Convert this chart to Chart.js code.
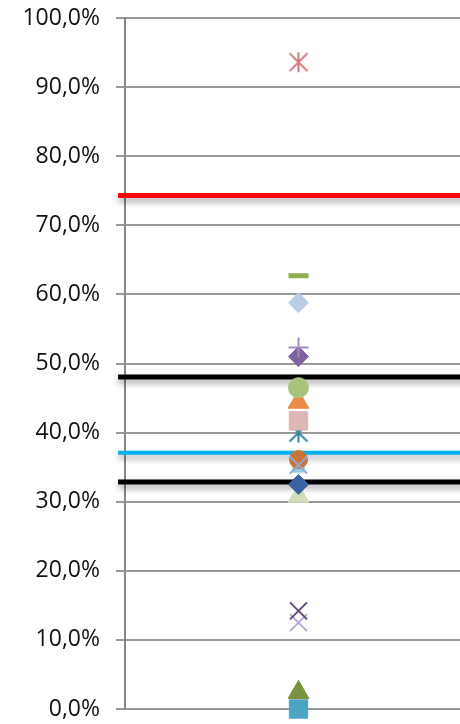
<!DOCTYPE html>
<html>
<head>
<meta charset="utf-8">
<script src="https://cdn.jsdelivr.net/npm/chart.js@4/dist/chart.umd.min.js"></script>
<style>
  html, body { margin: 0; padding: 0; background: #fff; overflow: hidden; width: 460px; height: 724px; }
  #wrap { width: 487px; height: 724px; position: relative; }
  canvas { display: block; }
</style>
</head>
<body>
<div id="wrap"><canvas id="c" width="487" height="724" style="width:487px;height:724px"></canvas></div>
<script>
// ---- data ----
const categoryX = 1;                      // single category in the middle of x range 0..2
const tickValues = [0, 10, 20, 30, 40, 50, 60, 70, 80, 90, 100];
const tickLabels = ['0,0%', '10,0%', '20,0%', '30,0%', '40,0%', '50,0%', '60,0%', '70,0%', '80,0%', '90,0%', '100,0%'];

// marker series, drawn bottom-to-top
const seriesNames  = ['S1', 'S2', 'S3', 'S4', 'S5', 'S6', 'S7', 'S8', 'S9', 'S10', 'S11', 'S12', 'S13', 'S14', 'S15', 'S16', 'S17', 'S18'];
const seriesValues = [2.4, 0.0, 12.5, 14.2, 30.8, 32.5, 35.1, 36.1, 35.3, 40.0, 41.7, 44.4, 46.5, 51.0, 52.3, 58.8, 62.7, 93.6];

// horizontal reference lines
const refNames  = ['Ref red', 'Ref black 1', 'Ref cyan', 'Ref black 2'];
const refValues = [74.3, 48.05, 37.1, 32.85];
const refXStart = -0.04, refXEnd = 2.1;

// ---- styles ----
function starCanvas(color) {
  const c = document.createElement('canvas');
  c.width = 22; c.height = 22;
  const g = c.getContext('2d');
  g.strokeStyle = color; g.lineWidth = 2;
  g.beginPath();
  g.moveTo(2, 2); g.lineTo(20, 20);
  g.moveTo(20, 2); g.lineTo(2, 20);
  g.moveTo(11, 1); g.lineTo(11, 21);
  g.stroke();
  return c;
}
const markerStyles = [
  { c: '#77933C', s: 'triangle', r: 12, bw: 1 },
  { c: '#4AA5C3', s: 'rect', r: 13, bw: 1 },
  { c: '#B6A8D0', s: 'crossRot', r: 12, bw: 2 },
  { c: '#604A7B', s: 'crossRot', r: 12, bw: 2 },
  { c: '#CFDDB9', s: 'triangle', r: 12, bw: 1 },
  { c: '#3A64A0', s: 'rectRot', r: 10, bw: 1 },
  { c: '#93CDDD', s: 'rect', r: 8, bw: 1 },
  { c: '#CC7438', s: 'circle', r: 9, bw: 1 },
  { c: '#8EAADB', s: 'crossRot', r: 12, bw: 2 },
  { c: '#31849B', s: starCanvas('#31849B'), r: 10, bw: 1 },
  { c: '#DDB7B6', s: 'rect', r: 13, bw: 1 },
  { c: '#EB8C47', s: 'triangle', r: 12, bw: 1 },
  { c: '#A8C47C', s: 'circle', r: 10, bw: 1 },
  { c: '#7E62A1', s: 'rectRot', r: 10, bw: 1 },
  { c: '#A08CC0', s: 'cross', r: 10, bw: 2 },
  { c: '#B9CDE5', s: 'rectRot', r: 10, bw: 1 },
  { c: '#8FB050', s: 'line', r: 10, bw: 5 },
  { c: '#D47B7B', s: starCanvas('#D47B7B'), r: 10, bw: 1 }
];
const refColors = ['#FF0000', '#000000', '#00B0F0', '#000000'];
const refWidths = [5, 5, 4, 5];

const datasets = [];
seriesNames.forEach((name, i) => {
  const st = markerStyles[i];
  datasets.push({
    type: 'scatter',
    label: name,
    data: [{ x: categoryX, y: seriesValues[i] }],
    pointStyle: st.s,
    pointRadius: st.r,
    pointHoverRadius: st.r,
    pointBackgroundColor: st.c,
    pointBorderColor: st.c,
    pointBorderWidth: st.bw,
    order: seriesNames.length - i,
    clip: false
  });
});
refNames.forEach((name, i) => {
  datasets.push({
    type: 'line',
    label: name,
    data: [{ x: refXStart, y: refValues[i] }, { x: refXEnd, y: refValues[i] }],
    borderColor: refColors[i],
    borderWidth: refWidths[i],
    pointRadius: 0,
    fill: false,
    order: 100,
    clip: false,
    isRef: true
  });
});

const shadowPlugin = {
  id: 'refShadow',
  beforeDatasetDraw(chart, args) {
    if (chart.data.datasets[args.index].isRef) {
      const ctx = chart.ctx;
      ctx.save();
      ctx.shadowColor = 'rgba(0,0,0,0.35)';
      ctx.shadowBlur = 6;
      ctx.shadowOffsetY = 4;
    }
  },
  afterDatasetDraw(chart, args) {
    if (chart.data.datasets[args.index].isRef) chart.ctx.restore();
  }
};

new Chart(document.getElementById('c'), {
  data: { datasets },
  options: {
    responsive: false,
    animation: false,
    devicePixelRatio: 1,
    layout: { padding: { top: 18, bottom: 14, left: 0, right: 0 } },
    plugins: { legend: { display: false }, tooltip: { enabled: false } },
    scales: {
      x: { type: 'linear', min: 0, max: 2, display: false },
      y: {
        type: 'linear', min: 0, max: 100,
        afterFit(scale) {
          scale.width = 125;
          scale.paddingTop = 0; scale.paddingBottom = 0;
          scale.paddingLeft = 0; scale.paddingRight = 0;
        },
        afterBuildTicks(scale) { scale.ticks = tickValues.map(v => ({ value: v })); },
        ticks: {
          padding: 16,
          color: '#111',
          font: { family: 'Open Sans', size: 23 },
          callback: (v, idx) => tickLabels[tickValues.indexOf(v)]
        },
        grid: { color: '#999999', lineWidth: 2, tickLength: 9, drawTicks: true, tickColor: '#999999' },
        border: { color: '#868686', width: 2 }
      }
    }
  },
  plugins: [shadowPlugin]
});
</script>
</body>
</html>
